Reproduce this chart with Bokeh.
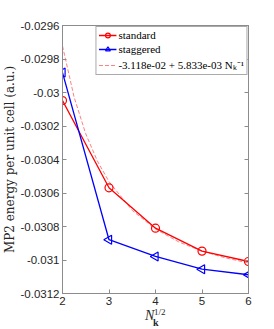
from bokeh.plotting import figure
from bokeh.models import (FixedTicker, LinearAxis, Legend, LegendItem, Div,
                          Range1d)
from bokeh.layouts import column
from bokeh.embed import file_html
from bokeh.resources import INLINE

# ---- data ----
nk = [2, 3, 4, 5, 6]
standard = [-0.030048, -0.030569, -0.030810, -0.030947, -0.031009]
staggered = [-0.029881, -0.030879, -0.030979, -0.031055, -0.031088]
fit_x = [2.0, 2.25, 2.5, 2.75, 3.0, 3.5, 4.0, 4.5, 5.0, 5.5, 6.0]
fit_y = [-0.029722, -0.030028, -0.030247, -0.030409, -0.030532, -0.030704,
         -0.030815, -0.030892, -0.030947, -0.030987, -0.031018]
yticks = [-0.0312, -0.031, -0.0308, -0.0306, -0.0304, -0.0302, -0.03,
          -0.0298, -0.0296]
ytick_labels = ["-0.0312", "-0.031", "-0.0308", "-0.0306", "-0.0304",
                "-0.0302", "-0.03", "-0.0298", "-0.0296"]
xticks = [2, 3, 4, 5, 6]
labels = ["standard", "staggered", "-3.118e-02 + 5.833e-03 N\u2096\u207b\u00b9"]
xlabel_parts = ["N", "k", "1/2"]

W, H = 266, 310
p = figure(width=W, height=H, output_backend="svg", toolbar_location=None,
           x_range=Range1d(2, 6), y_range=Range1d(-0.0312, -0.0296),
           min_border_left=62, min_border_right=W - 248, min_border_top=25,
           min_border_bottom=H - 293, x_axis_location=None,
           y_axis_location=None)
p.grid.visible = False
p.outline_line_color = "#8c8c8c"
p.outline_line_width = 1
p.background_fill_color = "white"
p.border_fill_color = "white"

AX = "#8c8c8c"
TXT = "#262626"
SANS = "Liberation Sans"
SERIF = "Liberation Serif"

def make_axis(loc, ticks, overrides, show_labels):
    ax = LinearAxis(ticker=FixedTicker(ticks=ticks))
    ax.axis_line_color = AX
    ax.major_tick_line_color = AX
    ax.major_tick_in = 4
    ax.major_tick_out = 0
    ax.minor_tick_line_color = None
    ax.major_label_text_font = SANS
    ax.major_label_text_font_size = "11.5px"
    ax.major_label_text_color = TXT
    ax.major_label_standoff = 3
    if overrides:
        ax.major_label_overrides = overrides
    if not show_labels:
        ax.major_label_text_font_size = "0px"
        ax.major_label_text_alpha = 0
    p.add_layout(ax, loc)
    return ax

yo = {t: l for t, l in zip(yticks, ytick_labels)}
xo = {t: str(t) for t in xticks}
left = make_axis("left", yticks, yo, True)
left.axis_label = "MP2 energy per unit cell (a.u.)"
left.axis_label_text_font = "DejaVu Serif"
left.axis_label_text_font_style = "normal"
left.axis_label_text_font_size = "12px"
left.axis_label_text_color = TXT
left.axis_label_standoff = 0
bottom = make_axis("below", xticks, xo, True)
make_axis("right", yticks, None, False)
make_axis("above", xticks, None, False)

# ---- glyphs ----
fit_r = p.line(fit_x, fit_y, line_color="#ff8080", line_width=1,
               line_dash="4 2")
st_l = p.line(nk, standard, line_color="#ff0000", line_width=1.3)
st_m = p.scatter(nk, standard, marker="circle", size=8, fill_color=None,
                 line_color="#ff0000", line_width=1.2)
sg_l = p.line(nk, staggered, line_color="#0000ff", line_width=1.3)
sg_m = p.scatter(nk, staggered, marker="triangle", angle=1.5708,
                 size=9, fill_color=None, line_color="#0000ff",
                 line_width=1.2)

legend = Legend(items=[
    LegendItem(label=labels[0], renderers=[st_l, st_m]),
    LegendItem(label=labels[1], renderers=[sg_l, sg_m]),
    LegendItem(label=labels[2], renderers=[fit_r]),
], location="top_right")
legend.margin = 1
legend.padding = 2
legend.spacing = 2
legend.glyph_width = 18
legend.glyph_height = 12
legend.label_standoff = 2
legend.label_height = 12
legend.label_text_font = SERIF
legend.label_text_font_size = "11px"
legend.label_text_color = "#000000"
legend.border_line_color = "#555555"
legend.border_line_width = 1
legend.background_fill_alpha = 1
p.add_layout(legend)

# ---- x-axis label N_k^{1/2}, as real HTML text under the figure ----
span = ("position:absolute;font-family:'Liberation Serif';color:%s;"
        "white-space:nowrap;" % TXT)
html = (
    '<div style="position:relative;width:%dpx;height:11px;overflow:visible;">'
    '<span style="%sleft:145px;top:-2px;font-size:14px;line-height:14px;'
    'font-style:italic;">%s</span>'
    '<span style="%sleft:153px;top:7px;font-size:10px;line-height:10px;'
    'font-weight:bold;">%s</span>'
    '<span style="%sleft:154px;top:-3px;font-size:9px;line-height:9px;">'
    '%s</span></div>'
) % (W, span, xlabel_parts[0], span, xlabel_parts[1], span, xlabel_parts[2])
xlabel = Div(text=html, width=W, height=11, margin=(0, 0, 0, 0),
             styles={"overflow": "visible"})

layout = column(p, xlabel, spacing=0)
open("out.html", "w").write(file_html(layout, INLINE))
